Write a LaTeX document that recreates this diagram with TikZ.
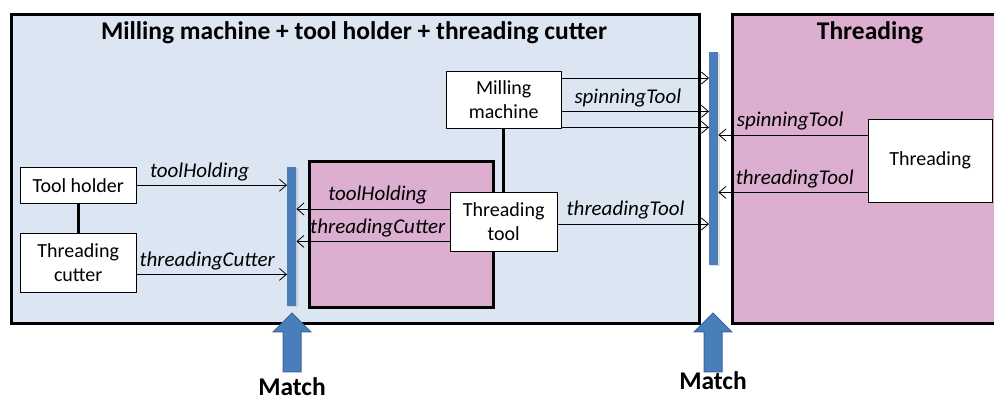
\documentclass[tikz,border=0pt]{standalone}
\usepackage{fontspec}
\setmainfont{Carlito}
\usetikzlibrary{positioning,arrows.meta,shadows}
\definecolor{paleblue}{HTML}{DCE6F2}
\definecolor{palepink}{HTML}{DCAED0}
\definecolor{barblue}{HTML}{4A7EBB}
\definecolor{arrowedge}{HTML}{3A659A}
\tikzset{
  frame/.style={draw, line width=3pt, inner sep=0pt, anchor=north west},
  unit/.style={draw, fill=white, align=center, inner sep=0pt, anchor=north west,
    font=\fontsize{20}{24}\selectfont},
  port/.style={fill=barblue, inner sep=0pt, minimum width=9pt, anchor=north west,
    drop shadow={opacity=0.25, shadow xshift=1.5pt, shadow yshift=-1pt}},
  flow/.style={-{Straight Barb[length=7pt,width=12pt]}, line width=0.8pt},
  lbl/.style={font=\fontsize{21}{24}\selectfont\itshape, inner sep=1pt, above=3pt},
  link/.style={line width=3pt},
  matcharrow/.style={draw=arrowedge, fill=barblue, line width=1pt, line join=miter},
  heading/.style={font=\fontsize{25.5}{28}\selectfont\bfseries, inner sep=0pt}
}
\begin{document}
\begin{tikzpicture}[x=1pt,y=-1pt]
    \clip (0,0) rectangle (994,403);

    % Containers
    \node[frame, fill=paleblue, minimum width=688pt, minimum height=309pt] (millbox) at (10,13) {};
    \node[frame, fill=palepink, minimum width=300pt, minimum height=309pt] (threadbox) at (731,13) {};
    \node[heading] (milltitle) at (354,33) {Milling machine + tool holder + threading cutter};
    \node[heading] (threadtitle) at (870,33) {Threading};

    % Inner threading tool block
    \node[frame, fill=palepink, minimum width=184pt, minimum height=146pt] (toolbox) at (308,160) {};

    % Ports
    \node[port, minimum height=139pt] (portL) at (287,167) {};
    \node[port, minimum height=213pt] (portR) at (709,52) {};

    % Units
    \node[unit, minimum width=115pt, minimum height=57pt] (mill) at (446,71) {Milling\\machine};
    \node[unit, minimum width=116pt, minimum height=36pt] (holder) at (20,167) {Tool holder};
    \node[unit, minimum width=116pt, minimum height=59pt] (cutter) at (20,233) {Threading\\cutter};
    \node[unit, minimum width=107pt, minimum height=59pt] (ttool) at (450,192) {Threading\\tool};
    \node[unit, minimum width=124pt, minimum height=83pt] (thread) at (868,119) {Threading};

    % Structural links
    \draw[link] (holder) -- (cutter);
    \draw[link] (mill) -- (ttool);

    % Milling machine to right port
    \draw[flow] ([yshift=-7pt]mill.north east) -- ([yshift=-7pt]mill.north east -| portR.west);
    \draw[flow] ([yshift=17pt]mill.south east) -- ([yshift=17pt]mill.south east -| portR.west)
        node[lbl, pos=0.45] {spinningTool};
    \draw[flow] ([yshift=1pt]mill.south east) -- ([yshift=1pt]mill.south east -| portR.west);

    % Threading to right port
    \draw[flow] ([yshift=-16pt]thread.north west) -- ([yshift=-16pt]thread.north west -| portR.east)
        node[lbl, pos=0.52] {spinningTool};
    \draw[flow] ([yshift=10pt]thread.south west) -- ([yshift=10pt]thread.south west -| portR.east)
        node[lbl, pos=0.49] {threadingTool};

    % Threading tool to ports
    \draw[flow] ([yshift=-32pt]ttool.north east) -- ([yshift=-32pt]ttool.north east -| portR.west)
        node[lbl, pos=0.45] {threadingTool};
    \draw[flow] ([yshift=-17pt]ttool.north west) -- ([yshift=-17pt]ttool.north west -| portL.east)
        node[lbl, pos=0.47] {toolHolding};
    \draw[flow] ([yshift=10pt]ttool.south west) -- ([yshift=10pt]ttool.south west -| portL.east)
        node[lbl, pos=0.47] {threadingCutter};

    % Tool holder and cutter to left port
    \draw[flow] (holder.east) -- (holder.east -| portL.west)
        node[lbl, pos=0.42] {toolHolding};
    \draw[flow] ([yshift=18pt]cutter.south east) -- ([yshift=18pt]cutter.south east -| portL.west)
        node[lbl, pos=0.47] {threadingCutter};

    % Match arrows
    \foreach \ax/\ty in {292/387, 713/381} {
        \draw[matcharrow] (\ax-9,372) -- (\ax-9,332) -- (\ax-19,332) -- (\ax,313)
            -- (\ax+19,332) -- (\ax+9,332) -- (\ax+9,372) -- cycle;
        \node[heading] (match\ax) at (\ax,\ty) {Match};
    }
\end{tikzpicture}
\end{document}
